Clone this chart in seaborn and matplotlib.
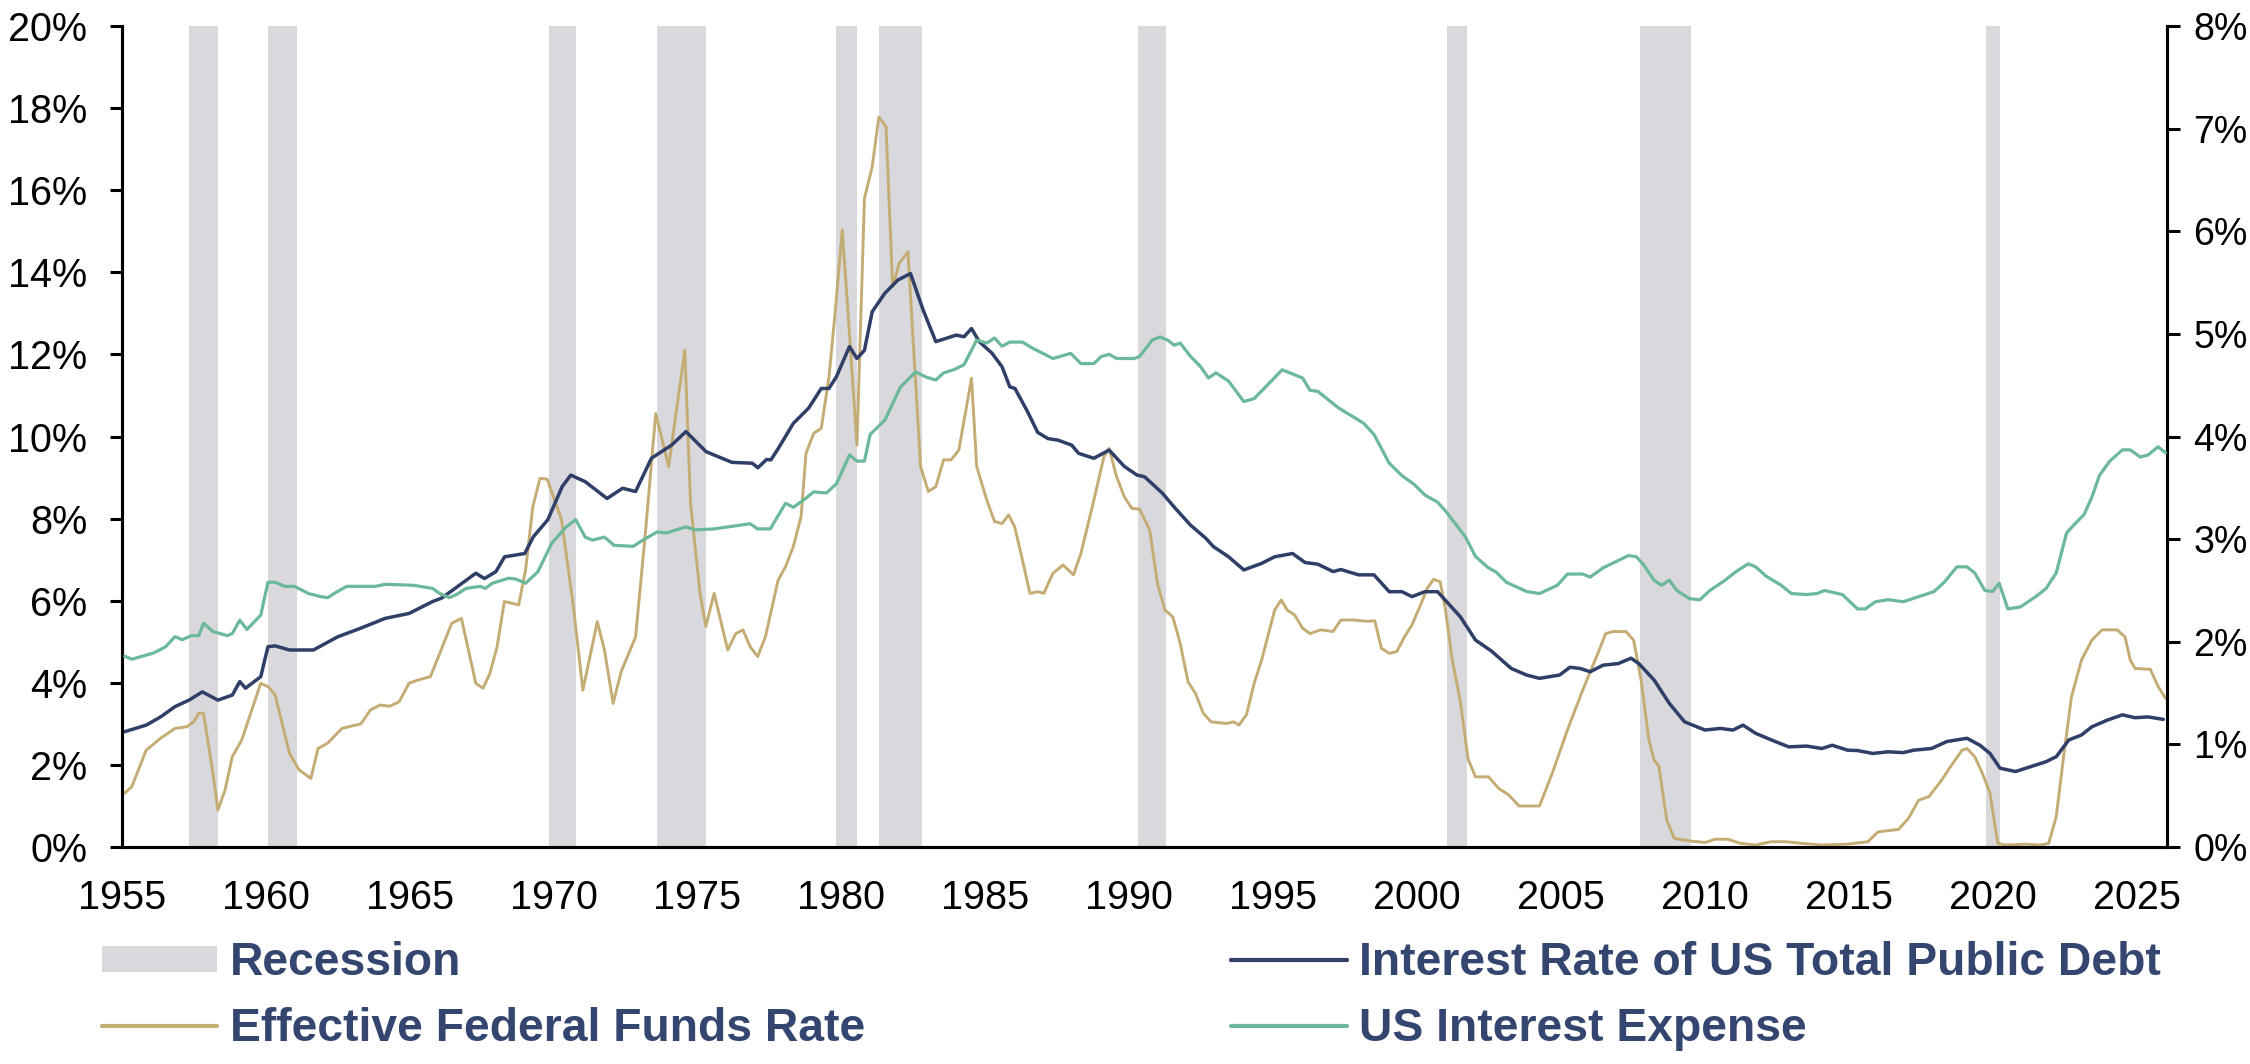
import numpy as np
import pandas as pd
import matplotlib
matplotlib.use('Agg')
import matplotlib.pyplot as plt
from matplotlib.patches import Patch
from matplotlib.lines import Line2D
from matplotlib.ticker import FuncFormatter
import seaborn as sns

# recession bands (start, end) in decimal years
rec_start = [1957.34, 1960.08, 1969.86, 1973.60, 1979.80, 1981.30, 1990.30, 2001.03, 2007.75, 2019.76]
rec_end = [1958.34, 1961.08, 1970.78, 1975.31, 1980.54, 1982.79, 1991.28, 2001.73, 2009.50, 2020.26]

# Effective Federal Funds Rate (%), left axis
ffr_year = [1955.10, 1955.35, 1955.85, 1956.35, 1956.85, 1957.26, 1957.50, 1957.68, 1957.84, 1958.17,
            1958.34, 1958.59, 1958.84, 1959.17, 1959.83, 1960.10, 1960.33, 1960.83, 1961.16, 1961.57,
            1961.82, 1962.15, 1962.65, 1963.31, 1963.64, 1963.98, 1964.31, 1964.64, 1964.98, 1965.30,
            1965.72, 1966.05, 1966.46, 1966.80, 1967.30, 1967.55, 1967.79, 1968.04, 1968.29, 1968.79,
            1969.03, 1969.28, 1969.53, 1969.78, 1970.28, 1970.69, 1971.02, 1971.52, 1971.77, 1972.07,
            1972.35, 1972.85, 1973.18, 1973.55, 1974.00, 1974.56, 1974.76, 1975.09, 1975.29, 1975.58,
            1976.05, 1976.33, 1976.58, 1976.83, 1977.09, 1977.36, 1977.80, 1978.06, 1978.33, 1978.60,
            1978.77, 1979.04, 1979.30, 1979.57, 1979.78, 1980.03, 1980.28, 1980.54, 1980.80, 1981.07,
            1981.30, 1981.55, 1981.78, 1982.01, 1982.31, 1982.58, 1982.75, 1983.02, 1983.28, 1983.55,
            1983.81, 1984.08, 1984.52, 1984.70, 1985.05, 1985.32, 1985.58, 1985.81, 1986.02, 1986.29,
            1986.55, 1986.82, 1987.03, 1987.35, 1987.70, 1988.06, 1988.32, 1988.77, 1989.12, 1989.30,
            1989.56, 1989.83, 1990.09, 1990.36, 1990.71, 1990.98, 1991.24, 1991.51, 1991.77, 1992.04,
            1992.30, 1992.57, 1992.84, 1993.37, 1993.63, 1993.81, 1994.07, 1994.34, 1994.60, 1994.87,
            1995.05, 1995.28, 1995.49, 1995.75, 1996.02, 1996.28, 1996.64, 1997.08, 1997.35, 1997.79,
            1998.23, 1998.53, 1998.76, 1999.03, 1999.29, 1999.56, 1999.82, 2000.09, 2000.35, 2000.57,
            2000.80, 2000.97, 2001.22, 2001.50, 2001.77, 2002.03, 2002.48, 2002.83, 2003.18, 2003.54,
            2004.25, 2004.69, 2005.22, 2005.75, 2006.28, 2006.55, 2006.81, 2007.25, 2007.52, 2007.78,
            2008.05, 2008.23, 2008.40, 2008.67, 2008.93, 2009.46, 2010.00, 2010.35, 2010.79, 2011.23,
            2011.76, 2012.30, 2012.83, 2013.35, 2014.06, 2014.95, 2015.66, 2016.01, 2016.72, 2017.07,
            2017.42, 2017.78, 2018.22, 2018.57, 2018.93, 2019.10, 2019.37, 2019.64, 2019.90, 2020.17,
            2020.43, 2021.14, 2021.67, 2021.94, 2022.20, 2022.47, 2022.73, 2023.08, 2023.44, 2023.79,
            2024.32, 2024.59, 2024.77, 2024.94, 2025.47, 2025.74, 2026.00]
ffr_val = [1.31, 1.47, 2.36, 2.65, 2.89, 2.93, 3.05, 3.26, 3.26, 1.79,
           0.90, 1.39, 2.20, 2.61, 3.99, 3.90, 3.70, 2.28, 1.88, 1.67,
           2.40, 2.53, 2.89, 3.00, 3.34, 3.46, 3.43, 3.54, 3.99, 4.07,
           4.15, 4.72, 5.45, 5.57, 3.99, 3.87, 4.23, 4.88, 5.98, 5.90,
           6.75, 8.29, 8.98, 8.96, 7.97, 5.85, 3.82, 5.49, 4.80, 3.50,
           4.27, 5.12, 7.56, 10.56, 9.27, 12.10, 8.37, 6.18, 5.37, 6.18,
           4.80, 5.20, 5.29, 4.88, 4.64, 5.12, 6.50, 6.83, 7.32, 8.05,
           9.59, 10.08, 10.20, 11.46, 13.00, 15.03, 12.51, 9.79, 15.80, 16.57,
           17.78, 17.55, 13.65, 14.22, 14.50, 11.30, 9.27, 8.66, 8.78, 9.43,
           9.43, 9.67, 11.42, 9.27, 8.45, 7.93, 7.88, 8.09, 7.80, 6.99,
           6.18, 6.22, 6.18, 6.67, 6.87, 6.63, 7.15, 8.45, 9.51, 9.71,
           9.02, 8.53, 8.25, 8.23, 7.72, 6.42, 5.77, 5.61, 4.96, 4.03,
           3.74, 3.26, 3.05, 3.01, 3.05, 2.97, 3.22, 3.99, 4.56, 5.29,
           5.77, 6.02, 5.77, 5.65, 5.33, 5.20, 5.29, 5.25, 5.53, 5.53,
           5.50, 5.51, 4.84, 4.72, 4.76, 5.12, 5.41, 5.85, 6.30, 6.52,
           6.46, 5.85, 4.56, 3.55, 2.14, 1.71, 1.71, 1.43, 1.27, 1.00,
           1.00, 1.79, 2.85, 3.82, 4.72, 5.20, 5.25, 5.25, 5.04, 4.07,
           2.61, 2.12, 1.96, 0.66, 0.21, 0.15, 0.11, 0.19, 0.19, 0.09,
           0.05, 0.13, 0.13, 0.09, 0.05, 0.07, 0.13, 0.37, 0.43, 0.70,
           1.14, 1.23, 1.63, 2.00, 2.36, 2.40, 2.20, 1.79, 1.31, 0.09,
           0.05, 0.07, 0.05, 0.09, 0.74, 2.28, 3.66, 4.56, 5.04, 5.29,
           5.29, 5.12, 4.56, 4.35, 4.33, 3.91, 3.62]

# Interest rate of US total public debt (%), left axis
debt_year = [1955.10, 1955.85, 1956.35, 1956.85, 1957.34, 1957.80, 1958.34, 1958.84, 1959.10, 1959.30,
             1959.83, 1960.08, 1960.33, 1960.83, 1961.66, 1962.50, 1963.30, 1964.15, 1964.98, 1965.80,
             1966.10, 1966.50, 1967.30, 1967.60, 1968.00, 1968.30, 1969.00, 1969.30, 1969.80, 1970.30,
             1970.60, 1971.10, 1971.86, 1972.40, 1972.85, 1973.40, 1974.10, 1974.60, 1975.30, 1976.20,
             1976.90, 1977.10, 1977.40, 1977.55, 1977.80, 1978.33, 1978.86, 1979.30, 1979.57, 1979.83,
             1980.28, 1980.54, 1980.80, 1981.07, 1981.51, 1981.96, 1982.40, 1982.84, 1983.28, 1983.64,
             1983.99, 1984.26, 1984.52, 1984.79, 1985.23, 1985.58, 1985.85, 1986.03, 1986.47, 1986.82,
             1987.17, 1987.53, 1988.00, 1988.24, 1988.77, 1989.30, 1989.83, 1990.27, 1990.53, 1991.15,
             1991.60, 1992.13, 1992.66, 1992.92, 1993.45, 1993.98, 1994.60, 1995.05, 1995.67, 1996.11,
             1996.55, 1997.08, 1997.35, 1997.97, 1998.50, 1999.03, 1999.47, 1999.82, 2000.27, 2000.71,
             2000.97, 2001.50, 2002.03, 2002.57, 2003.27, 2003.80, 2004.25, 2004.95, 2005.31, 2005.66,
             2006.01, 2006.46, 2006.99, 2007.43, 2007.70, 2008.23, 2008.76, 2009.29, 2010.00, 2010.53,
             2010.97, 2011.32, 2011.76, 2012.30, 2012.91, 2013.53, 2014.06, 2014.42, 2014.95, 2015.30,
             2015.83, 2016.36, 2016.89, 2017.25, 2017.87, 2018.40, 2019.10, 2019.55, 2019.90, 2020.25,
             2020.79, 2021.32, 2021.85, 2022.20, 2022.64, 2023.08, 2023.44, 2023.97, 2024.50, 2024.94,
             2025.39, 2025.92]
debt_val = [2.81, 2.97, 3.17, 3.42, 3.58, 3.78, 3.58, 3.70, 4.03, 3.87,
            4.15, 4.88, 4.90, 4.80, 4.80, 5.12, 5.33, 5.57, 5.69, 5.98,
            6.06, 6.26, 6.67, 6.54, 6.71, 7.07, 7.15, 7.56, 7.97, 8.78,
            9.06, 8.90, 8.49, 8.74, 8.66, 9.47, 9.79, 10.12, 9.63, 9.37,
            9.35, 9.24, 9.44, 9.43, 9.70, 10.32, 10.69, 11.17, 11.17, 11.46,
            12.19, 11.90, 12.10, 13.04, 13.49, 13.81, 13.97, 13.08, 12.31, 12.39,
            12.47, 12.43, 12.63, 12.31, 12.03, 11.70, 11.21, 11.17, 10.60, 10.10,
            9.95, 9.91, 9.79, 9.59, 9.47, 9.67, 9.27, 9.06, 9.02, 8.62,
            8.25, 7.84, 7.52, 7.32, 7.07, 6.75, 6.91, 7.07, 7.15, 6.93,
            6.89, 6.71, 6.76, 6.63, 6.63, 6.22, 6.22, 6.10, 6.22, 6.22,
            6.02, 5.61, 5.04, 4.78, 4.35, 4.19, 4.11, 4.19, 4.38, 4.35,
            4.27, 4.43, 4.47, 4.60, 4.47, 4.07, 3.50, 3.05, 2.85, 2.89,
            2.85, 2.97, 2.77, 2.61, 2.44, 2.46, 2.40, 2.48, 2.36, 2.35,
            2.28, 2.32, 2.30, 2.36, 2.40, 2.57, 2.65, 2.48, 2.28, 1.92,
            1.84, 1.96, 2.08, 2.20, 2.61, 2.73, 2.93, 3.09, 3.22, 3.15,
            3.17, 3.11]

# US interest expense (%), right axis
exp_year = [1955.10, 1955.35, 1955.85, 1956.10, 1956.52, 1956.85, 1957.10, 1957.43, 1957.68, 1957.84,
            1958.17, 1958.67, 1958.84, 1959.10, 1959.35, 1959.83, 1960.08, 1960.33, 1960.66, 1961.00,
            1961.49, 1961.91, 1962.16, 1962.49, 1962.82, 1963.81, 1964.15, 1965.14, 1965.80, 1966.05,
            1966.38, 1966.63, 1966.96, 1967.46, 1967.63, 1967.87, 1968.45, 1968.70, 1969.03, 1969.45,
            1969.94, 1970.44, 1970.77, 1971.10, 1971.35, 1971.77, 1972.10, 1972.77, 1973.10, 1973.60,
            1973.93, 1974.59, 1974.92, 1975.58, 1976.08, 1976.83, 1977.09, 1977.53, 1978.06, 1978.33,
            1978.68, 1979.04, 1979.48, 1979.83, 1980.28, 1980.54, 1980.80, 1981.00, 1981.51, 1982.05,
            1982.58, 1982.93, 1983.28, 1983.55, 1983.90, 1984.26, 1984.70, 1985.05, 1985.32, 1985.58,
            1985.85, 1986.29, 1986.64, 1987.35, 1987.97, 1988.32, 1988.77, 1989.03, 1989.30, 1989.56,
            1990.18, 1990.36, 1990.80, 1991.07, 1991.33, 1991.56, 1991.77, 1992.13, 1992.48, 1992.75,
            1993.01, 1993.45, 1993.98, 1994.34, 1994.69, 1995.31, 1996.02, 1996.28, 1996.55, 1997.26,
            1997.79, 1998.14, 1998.50, 1999.03, 1999.47, 1999.91, 2000.27, 2000.71, 2000.97, 2001.33,
            2001.68, 2002.03, 2002.48, 2002.74, 2003.10, 2003.80, 2004.25, 2004.87, 2005.22, 2005.75,
            2006.01, 2006.46, 2006.90, 2007.34, 2007.61, 2007.87, 2008.23, 2008.49, 2008.76, 2009.02,
            2009.46, 2009.82, 2010.17, 2010.70, 2011.06, 2011.50, 2011.76, 2012.12, 2012.65, 2013.00,
            2013.53, 2013.89, 2014.15, 2014.77, 2015.30, 2015.57, 2015.92, 2016.36, 2016.89, 2017.42,
            2017.96, 2018.31, 2018.75, 2019.10, 2019.37, 2019.72, 2019.99, 2020.22, 2020.52, 2020.96,
            2021.49, 2021.85, 2022.20, 2022.56, 2022.82, 2023.17, 2023.44, 2023.70, 2024.06, 2024.50,
            2024.77, 2025.12, 2025.39, 2025.74, 2026.00]
exp_val = [1.86, 1.83, 1.87, 1.89, 1.95, 2.05, 2.02, 2.06, 2.06, 2.18,
           2.10, 2.06, 2.08, 2.21, 2.12, 2.26, 2.58, 2.58, 2.54, 2.54,
           2.47, 2.44, 2.43, 2.49, 2.54, 2.54, 2.56, 2.55, 2.52, 2.47,
           2.43, 2.46, 2.52, 2.54, 2.52, 2.57, 2.62, 2.61, 2.57, 2.68,
           2.96, 3.12, 3.19, 3.02, 2.99, 3.02, 2.94, 2.93, 2.99, 3.07,
           3.06, 3.12, 3.09, 3.10, 3.12, 3.15, 3.10, 3.10, 3.35, 3.31,
           3.38, 3.46, 3.45, 3.54, 3.82, 3.76, 3.76, 4.02, 4.16, 4.48,
           4.63, 4.58, 4.55, 4.62, 4.65, 4.70, 4.94, 4.91, 4.96, 4.88,
           4.92, 4.92, 4.86, 4.76, 4.81, 4.71, 4.71, 4.78, 4.80, 4.76,
           4.76, 4.78, 4.94, 4.97, 4.94, 4.89, 4.91, 4.78, 4.68, 4.57,
           4.62, 4.54, 4.34, 4.37, 4.47, 4.65, 4.57, 4.45, 4.44, 4.28,
           4.19, 4.13, 4.02, 3.74, 3.62, 3.53, 3.43, 3.36, 3.28, 3.15,
           3.02, 2.83, 2.72, 2.68, 2.58, 2.49, 2.47, 2.55, 2.66, 2.66,
           2.63, 2.72, 2.78, 2.84, 2.83, 2.75, 2.60, 2.55, 2.60, 2.50,
           2.42, 2.41, 2.50, 2.60, 2.68, 2.76, 2.73, 2.64, 2.55, 2.47,
           2.46, 2.47, 2.50, 2.46, 2.32, 2.32, 2.39, 2.41, 2.39, 2.44,
           2.49, 2.58, 2.73, 2.73, 2.67, 2.50, 2.49, 2.57, 2.32, 2.34,
           2.44, 2.52, 2.67, 3.06, 3.14, 3.24, 3.41, 3.62, 3.76, 3.87,
           3.87, 3.80, 3.82, 3.90, 3.84]

assert len(ffr_year) == len(ffr_val)
assert len(debt_year) == len(debt_val)
assert len(exp_year) == len(exp_val)

ffr = pd.DataFrame({'year': ffr_year, 'rate': ffr_val})
debt = pd.DataFrame({'year': debt_year, 'rate': debt_val})
expense = pd.DataFrame({'year': exp_year, 'rate': exp_val})

navy = '#2F3F68'
gold = '#C4AD74'
teal = '#6BB89B'
grey = '#D9D8DC'
label_col = '#34466F'

sns.set_style('white')
plt.rcParams['font.family'] = ['Liberation Sans', 'DejaVu Sans']

fig = plt.figure(figsize=(22.5, 10.64), dpi=100)
ax = fig.add_axes([0.0541, 0.2039, 0.9630 - 0.0541, 0.9756 - 0.2039])
ax2 = ax.twinx()

for s, e in zip(rec_start, rec_end):
    ax.axvspan(s, e, color=grey, lw=0, zorder=0)

sns.lineplot(data=ffr, x='year', y='rate', ax=ax, color=gold, lw=2.1, zorder=3)
sns.lineplot(data=debt, x='year', y='rate', ax=ax, color=navy, lw=2.5, zorder=4)
sns.lineplot(data=expense, x='year', y='rate', ax=ax2, color=teal, lw=2.3, zorder=3)

ax.set_xlim(1955, 2026.04)
ax.set_ylim(0, 20)
ax2.set_ylim(0, 8)
ax.set_xticks(range(1955, 2026, 5))
ax.set_yticks(range(0, 21, 2))
ax2.set_yticks(range(0, 9, 1))
pct = FuncFormatter(lambda v, p: f'{v:.0f}%')
ax.yaxis.set_major_formatter(pct)
ax2.yaxis.set_major_formatter(pct)
ax.set_xlabel('')
ax.set_ylabel('')
ax2.set_ylabel('')

for a in (ax, ax2):
    a.spines['top'].set_visible(False)
    for side in ('left', 'right', 'bottom'):
        a.spines[side].set_linewidth(2.2)
        a.spines[side].set_color('black')
    a.tick_params(axis='both', which='major', direction='out', length=9, width=2.2,
                  labelsize=28.5, colors='black', pad=10)
ax.tick_params(axis='y', pad=16)
ax2.tick_params(axis='y', pad=10, labelsize=27)
ax.tick_params(axis='x', pad=14)

handles = [Patch(facecolor=grey, edgecolor='none'),
           Line2D([], [], color=gold, lw=3),
           Line2D([], [], color=navy, lw=3),
           Line2D([], [], color=teal, lw=3)]
labels = ['Recession', 'Effective Federal Funds Rate',
          'Interest Rate of US Total Public Debt', 'US Interest Expense']
leg = fig.legend(handles, labels, ncol=2, loc='upper left', bbox_to_anchor=(0.0452, 0.1155),
                 frameon=False, handlelength=2.5, handleheight=0.5, handletextpad=0.28,
                 columnspacing=7.9, labelspacing=0.47, borderpad=0, borderaxespad=0,
                 prop={'family': 'Liberation Sans', 'weight': 'bold', 'size': 33.3})
for t in leg.get_texts():
    t.set_color(label_col)

fig.savefig('out.png', dpi=100)
